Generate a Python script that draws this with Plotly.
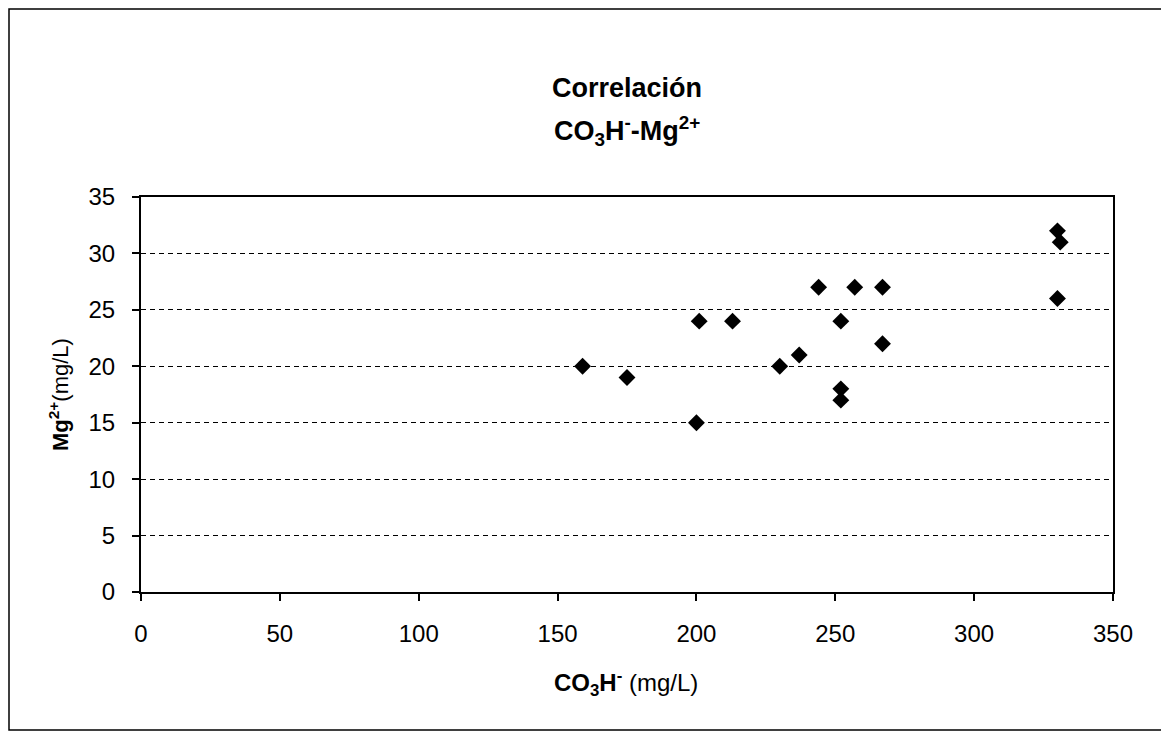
import plotly.graph_objects as go

# Data
co3h = [159, 175, 200, 201, 213, 230, 237, 244, 252, 252, 252, 257, 267, 267, 330, 331, 330]
mg = [20, 19, 15, 24, 24, 20, 21, 27, 24, 18, 17, 27, 27, 22, 32, 31, 26]

x_ticks = [0, 50, 100, 150, 200, 250, 300, 350]
y_ticks = [0, 5, 10, 15, 20, 25, 30, 35]

OFF = 8  # page body margin of the html page
W, H = 1169 - OFF, 736 - OFF
# plot area in screen pixels
L, R, T, B = 141, 1113, 197, 592
pw, ph = R - L, B - T

def px(xp):
    return (xp - L) / pw

def py(yp):
    return (B - yp) / ph

FONT = "Liberation Sans, Arial, sans-serif"

fig = go.Figure()
fig.add_trace(go.Scatter(
    x=co3h, y=mg, mode="markers",
    marker=dict(symbol="diamond", size=13, color="black", line=dict(width=0)),
    showlegend=False, hoverinfo="x+y",
))

fig.update_layout(
    width=W, height=H,
    margin=dict(l=L - OFF, r=(W + OFF) - R, t=T - OFF, b=(H + OFF) - B, pad=0),
    paper_bgcolor="white", plot_bgcolor="white",
    font=dict(family=FONT, color="black", size=24),
    showlegend=False,
)

fig.update_xaxes(
    range=[0, 350], tickvals=x_ticks, ticktext=[str(v) for v in x_ticks],
    showgrid=False, zeroline=False,
    showline=True, linecolor="black", linewidth=2, mirror=True,
    ticks="outside", ticklen=7, tickwidth=1.5, tickcolor="black",
    tickfont=dict(size=24, family=FONT), ticklabelstandoff=12,
)
fig.update_yaxes(
    range=[0, 35], tickvals=y_ticks, ticktext=[str(v) for v in y_ticks],
    showgrid=True, gridcolor="black", gridwidth=1, griddash="5px,4px",
    zeroline=False,
    showline=True, linecolor="black", linewidth=2, mirror=True,
    ticks="outside", ticklen=7, tickwidth=1.5, tickcolor="black",
    tickfont=dict(size=24, family=FONT), ticklabelstandoff=12,
    title=dict(text="<b>Mg<sup>2+</sup></b>(mg/L)", font=dict(size=22, family=FONT), standoff=14),
)

# Title lines
fig.add_annotation(
    text="<b>Correlación</b>", xref="paper", yref="paper",
    x=0.5, y=py(88), xanchor="center", yanchor="middle", showarrow=False,
    font=dict(size=27, family=FONT, color="black"),
)
fig.add_annotation(
    text="<b>CO<sub>3</sub>H<sup>-</sup>-Mg<sup>2+</sup></b>", xref="paper", yref="paper",
    x=0.5, y=py(131), xanchor="center", yanchor="middle", showarrow=False,
    font=dict(size=27, family=FONT, color="black"),
)
# X axis title
fig.add_annotation(
    text="<b>CO<sub>3</sub>H<sup>-</sup></b> (mg/L)", xref="paper", yref="paper",
    x=px(626), y=py(683), xanchor="center", yanchor="middle", showarrow=False,
    font=dict(size=24, family=FONT, color="black"),
)

# Outer chart frame (kept inside the visible figure area)
fig.add_shape(
    type="rect", xref="paper", yref="paper",
    x0=px(9), x1=px(1162), y0=py(730), y1=py(9),
    line=dict(color="black", width=1.5), fillcolor="rgba(0,0,0,0)", layer="below",
)

fig.write_html("out.html")
